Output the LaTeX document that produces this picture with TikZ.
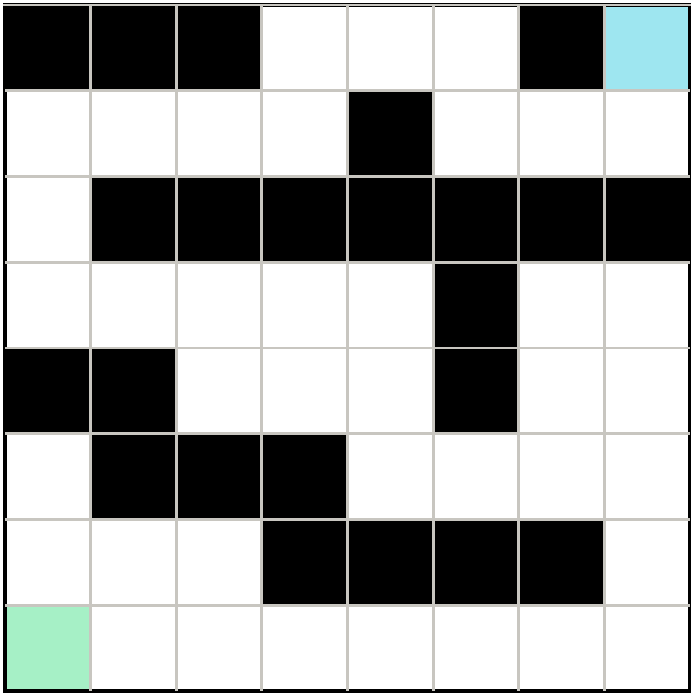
\documentclass[tikz,border=0pt]{standalone}
\definecolor{startcol}{HTML}{A6F0C6}
\definecolor{goalcol}{HTML}{9EE6F0}
\definecolor{gridcol}{HTML}{C8C6C0}
\begin{document}
\begin{tikzpicture}[x=0.75pt,y=-0.75pt,
  wall/.style={fill=black},
  gridline/.style={draw=gridcol,line width=2.2pt},
  frame/.style={draw=black,line width=2.6pt}]
\useasboundingbox (0,0) rectangle (691,696);
\fill[white] (0,0) rectangle (691,696);
\def\cw{85.625}
\def\ch{85.75}
% walls: row/col pairs
\foreach \r/\c in {0/0,0/1,0/2,0/6,1/4,2/1,2/2,2/3,2/4,2/5,2/6,2/7,3/5,4/0,4/1,4/5,5/1,5/2,5/3,6/3,6/4,6/5,6/6}
  \fill[wall] ({5+\c*\cw},{5+\r*\ch}) rectangle ++(\cw,\ch);
\fill[goalcol] ({5+7*\cw},5) rectangle ++(\cw,\ch);
\fill[startcol] (5,{5+7*\ch}) rectangle ++(\cw,\ch);
\draw[frame] (5,5) rectangle (690,691);
\foreach \i in {1,...,7} {
  \draw[gridline] ({5+\i*\cw},5) -- ({5+\i*\cw},691);
  \draw[gridline] (5,{5+\i*\ch}) -- (690,{5+\i*\ch});
}
\draw[gridline] (3,5) -- (692,5);
\end{tikzpicture}
\end{document}
